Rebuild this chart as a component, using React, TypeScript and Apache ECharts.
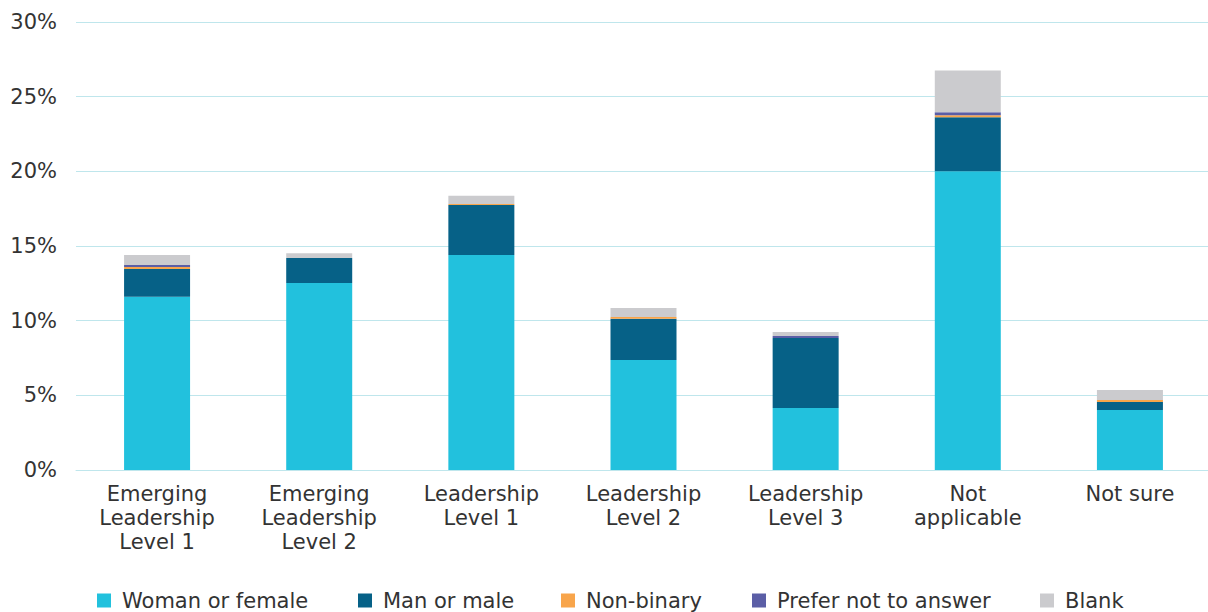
import React, { useEffect, useRef } from "react";
import * as echarts from "echarts";

const categories = [
  "Emerging\nLeadership\nLevel 1",
  "Emerging\nLeadership\nLevel 2",
  "Leadership\nLevel 1",
  "Leadership\nLevel 2",
  "Leadership\nLevel 3",
  "Not\napplicable",
  "Not sure",
];
const woman = [11.6, 12.52, 14.4, 7.37, 4.15, 20.0, 4.02];
const man = [1.86, 1.67, 3.35, 2.75, 4.69, 3.62, 0.54];
const nonBinary = [0.13, 0, 0.07, 0.13, 0, 0.13, 0.13];
const preferNot = [0.13, 0, 0, 0, 0.13, 0.2, 0];
const blank = [0.67, 0.33, 0.54, 0.6, 0.27, 2.81, 0.67];
const yTicks = [0, 5, 10, 15, 20, 25, 30];

const seriesDefs = [
  { name: "Woman or female", data: woman, color: "#22c1dd", legendX: 92 },
  { name: "Man or male", data: man, color: "#066187", legendX: 353 },
  { name: "Non-binary", data: nonBinary, color: "#f8a54b", legendX: 556 },
  { name: "Prefer not to answer", data: preferNot, color: "#5b5ea6", legendX: 747 },
  { name: "Blank", data: blank, color: "#cbcbce", legendX: 1035 },
];

export default function App() {
  const ref = useRef<HTMLDivElement>(null);
  useEffect(() => {
    const chart = echarts.init(ref.current!, null, { renderer: "svg" });
    const font = "'DejaVu Sans', sans-serif";
    const fs = 21;
    chart.setOption({
      animation: false,
      textStyle: { fontFamily: font },
      grid: { left: 76, right: 0, top: 22, bottom: 142, containLabel: false },
      legend: seriesDefs.map((s) => ({
        bottom: -4,
        left: s.legendX,
        itemWidth: 14,
        itemHeight: 14,
        icon: "rect",
        textStyle: {
          fontSize: fs,
          color: "#333",
          fontFamily: font,
          padding: [0, 0, 0, 6],
        },
        data: [s.name],
      })),
      xAxis: {
        type: "category",
        data: categories,
        axisLine: { show: true, lineStyle: { color: "#bfe6ec", width: 1 } },
        axisTick: { show: false },
        axisLabel: {
          fontSize: fs,
          color: "#333",
          lineHeight: 24,
          margin: 12,
          interval: 0,
          fontFamily: font,
        },
      },
      yAxis: {
        type: "value",
        min: yTicks[0],
        max: yTicks[yTicks.length - 1],
        interval: 5,
        axisLine: { show: false },
        axisTick: { show: false },
        splitLine: { lineStyle: { color: "#bfe6ec", width: 1 } },
        axisLabel: {
          formatter: "{value}%",
          fontSize: fs,
          color: "#333",
          margin: 19,
          fontFamily: font,
        },
      },
      series: seriesDefs.map((s) => ({
        name: s.name,
        type: "bar",
        stack: "total",
        barWidth: 66,
        data: s.data,
        itemStyle: { color: s.color },
      })),
    });
    return () => chart.dispose();
  }, []);
  return (
    <div
      style={{
        position: "absolute",
        left: 0,
        top: 0,
        width: 1208,
        height: 612,
        overflow: "hidden",
      }}
    >
      <div ref={ref} style={{ width: 1211, height: 612 }} />
    </div>
  );
}
